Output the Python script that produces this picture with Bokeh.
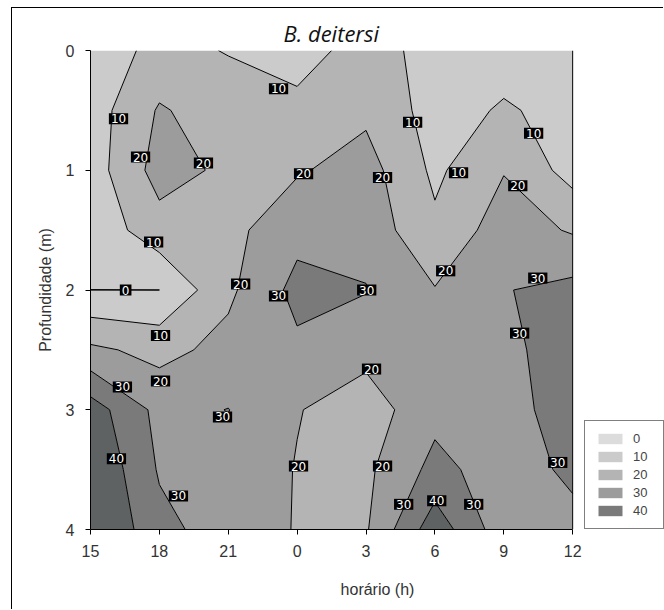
import numpy as np
from bokeh.plotting import figure
from bokeh.models import Range1d, FixedTicker, Legend, LegendItem, ColumnDataSource, Span
from bokeh.core.properties import value
from bokeh.embed import file_html
from bokeh.resources import INLINE

# ---- data ----
hours_elapsed = [0, 3, 6, 9, 12, 15, 18, 21]          # hours since 15h
hour_labels = ["15", "18", "21", "0", "3", "6", "9", "12"]
depths = [0, 0.5, 1, 1.5, 2, 2.5, 3, 3.5, 4]
depth_ticks = [0, 1, 2, 3, 4]

# values per depth row (columns follow hours_elapsed)
z_d0_0 = [4, 13, 9.5, 7, 13, 7.5, 6, 5]
z_d0_5 = [5, 21, 15, 12, 18, 6, 11, 7]
z_d1_0 = [5, 24, 18, 19, 24, 8, 19.5, 6]
z_d1_5 = [3, 16, 17, 27, 26, 12, 25, 19]
z_d2_0 = [-0.02, -0.02, 18, 33, 30.5, 20.5, 29.5, 33]
z_d2_5 = [22, 17, 23, 28, 23, 25, 27, 36]
z_d3_0 = [45, 27, 30.2, 20.5, 15, 27, 26, 35]
z_d3_5 = [50, 29, 27, 19.5, 18, 33, 25, 32]
z_d4_0 = [52, 33, 25, 19.5, 19, 46, 24, 27]

levels = [-5, 0, 10, 20, 30, 40, 60]
band_colors = ["#dcdcdc", "#cbcbcb", "#b4b4b4", "#9c9c9c", "#7a7a7a", "#5e6262"]
legend_labels = ["0", "10", "20", "30", "40"]

# contour label positions (hours since 15h, depth) and text
label_t = [1.22, 2.18, 4.92, 8.19, 9.28, 14.03, 12.72, 16.03, 19.30, 18.61,
           2.75, 1.53, 6.54, 8.19, 12.03, 15.47, 19.48, 3.05, 3.05, 1.39,
           18.69, 12.24, 5.75, 1.13, 9.06, 12.72, 20.35, 3.83, 13.64, 15.08, 16.69]
label_d = [0.57, 0.89, 0.94, 0.32, 1.03, 0.60, 1.06, 1.02, 0.69, 1.13,
           1.60, 2.00, 1.95, 2.05, 2.00, 1.84, 1.90, 2.38, 2.76, 2.81,
           2.36, 2.66, 3.06, 3.41, 3.47, 3.47, 3.44, 3.72, 3.79, 3.76, 3.79]
label_txt = ["10", "20", "20", "10", "20", "10", "20", "10", "10", "20",
             "10", "0", "20", "30", "30", "20", "30", "10", "20", "30",
             "30", "20", "30", "40", "20", "20", "30", "30", "30", "40", "30"]

z = np.array([z_d0_0, z_d0_5, z_d1_0, z_d1_5, z_d2_0, z_d2_5, z_d3_0, z_d3_5, z_d4_0])

t_min, t_max = hours_elapsed[0], hours_elapsed[-1]

# ---- figure ----
# frame extends right to leave room for the legend; axis lines are bounded to the data
p = figure(width=652, height=602, x_range=Range1d(t_min, 25), y_range=Range1d(depths[-1], depths[0]),
           output_backend="svg", toolbar_location=None,
           min_border_left=78, min_border_top=42, min_border_right=0, min_border_bottom=81,
           margin=(7, 0, 0, 11))
p.styles = {"border-left": "1px solid black", "border-top": "1px solid black"}
p.outline_line_color = None
p.background_fill_color = "white"
p.xgrid.grid_line_color = None
p.ygrid.grid_line_color = None

p.title.text = "B. deitersi"
p.title.text_font = "Open Sans"
p.title.text_font_style = "italic"
p.title.text_font_size = "22px"
p.title.text_color = "#111111"
p.title.align = "left"
p.title.offset = 193
p.title.standoff = 5

cr = p.contour(x=hours_elapsed, y=depths, z=z, levels=levels,
               fill_color=band_colors, line_color="black", line_width=1)

src = ColumnDataSource(dict(t=label_t, d=label_d, txt=label_txt))
p.text(x="t", y="d", text="txt", source=src, text_color="white",
       text_font=value("DejaVu Sans"), text_font_size="12px",
       text_align="center", text_baseline="middle",
       background_fill_color="black", padding=(2, 1))

# axes
for ax in (p.xaxis[0], p.yaxis[0]):
    ax.axis_line_color = "black"
    ax.major_tick_line_color = "black"
    ax.major_tick_out = 5
    ax.major_tick_in = 0
    ax.minor_tick_line_color = None
    ax.major_label_text_font = "Liberation Sans"
    ax.major_label_text_font_size = "16px"
    ax.major_label_text_color = "#333333"
    ax.axis_label_text_font = "Liberation Sans"
    ax.axis_label_text_font_size = "16px"
    ax.axis_label_text_font_style = "normal"
    ax.axis_label_text_color = "#333333"

p.xaxis.bounds = (t_min, t_max)
p.xaxis.ticker = FixedTicker(ticks=hours_elapsed)
p.xaxis.major_label_overrides = {h: lab for h, lab in zip(hours_elapsed, hour_labels)}
p.xaxis.axis_label = "horário (h)"
p.xaxis.major_label_standoff = 10
p.xaxis.axis_label_standoff = 21

p.yaxis.ticker = FixedTicker(ticks=depth_ticks)
p.yaxis.axis_label = "Profundidade (m)"
p.yaxis.major_label_standoff = 11
p.yaxis.axis_label_standoff = 9

# right edge of the data area
p.add_layout(Span(location=t_max, dimension="height", line_color="black", line_width=1))

# legend: swatches taken from the contour fill bands
items = [LegendItem(label=lab, renderers=[cr.fill_renderer], index=i)
         for i, lab in enumerate(legend_labels)]
legend = Legend(items=items, location=(494, 0), glyph_width=30, glyph_height=13,
                label_height=13, spacing=3, padding=10, label_standoff=8, margin=0,
                border_line_color="black", border_line_width=1,
                label_text_font="Liberation Sans", label_text_font_size="13px",
                background_fill_color="white", background_fill_alpha=1)
p.add_layout(legend, "center")

open("out.html", "w").write(file_html(p, INLINE))
